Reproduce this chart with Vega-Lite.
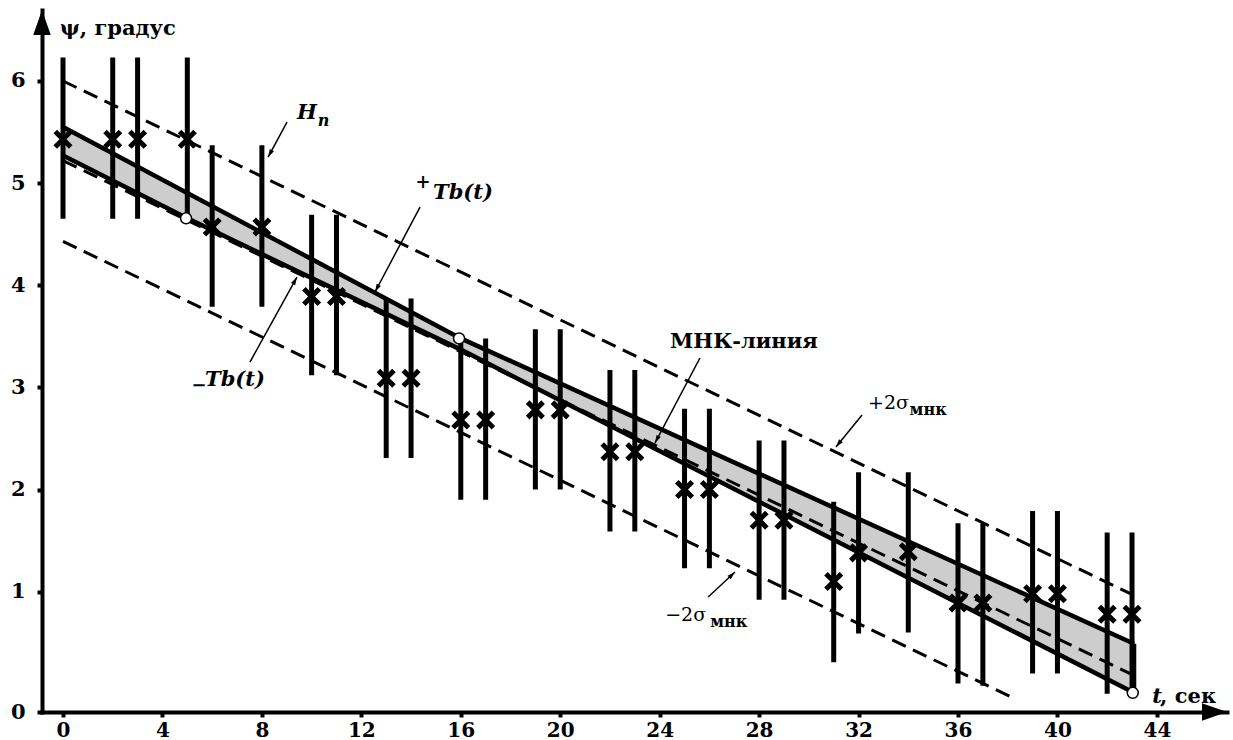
{
  "$schema": "https://vega.github.io/schema/vega-lite/v6.json",
  "width": 1185,
  "height": 702,
  "autosize": "none",
  "padding": {"left": 42, "top": 10, "right": 6, "bottom": 28},
  "background": "white",
  "config": {"view": {"stroke": null}, "font": "DejaVu Serif"},
  "datasets": {
    "band": [
      {"t": 0, "psi": 5.27, "psi2": 5.55},
      {"t": 5, "psi": 4.655, "psi2": 4.9},
      {"t": 16, "psi": 3.37, "psi2": 3.48},
      {"t": 43.08, "psi": 0.01, "psi2": 0.49}
    ],
    "curves": [
      {"series": "upper", "t": 0, "psi": 5.55},
      {"series": "upper", "t": 16, "psi": 3.48},
      {"series": "upper", "t": 43.08, "psi": 0.49},
      {"series": "lower", "t": 0, "psi": 5.27},
      {"series": "lower", "t": 5, "psi": 4.655},
      {"series": "lower", "t": 16, "psi": 3.37},
      {"series": "lower", "t": 43.08, "psi": 0.01},
      {"series": "mnk", "t": 0, "psi": 5.22},
      {"series": "mnk", "t": 43.08, "psi": 0.18},
      {"series": "plus2", "t": 0, "psi": 6.0},
      {"series": "plus2", "t": 43.04, "psi": 0.968},
      {"series": "minus2", "t": 0, "psi": 4.43},
      {"series": "minus2", "t": 38.3, "psi": -0.05}
    ],
    "bars": [
      {"t": 0, "psi": 4.65, "psi2": 6.23},
      {"t": 2, "psi": 4.65, "psi2": 6.23},
      {"t": 3, "psi": 4.65, "psi2": 6.23},
      {"t": 5, "psi": 4.65, "psi2": 6.23},
      {"t": 6, "psi": 3.79, "psi2": 5.37},
      {"t": 8, "psi": 3.79, "psi2": 5.37},
      {"t": 10, "psi": 3.12, "psi2": 4.69},
      {"t": 11, "psi": 3.12, "psi2": 4.69},
      {"t": 13, "psi": 2.31, "psi2": 3.87},
      {"t": 14, "psi": 2.31, "psi2": 3.87},
      {"t": 16, "psi": 1.9, "psi2": 3.48},
      {"t": 17, "psi": 1.9, "psi2": 3.48},
      {"t": 19, "psi": 2.0, "psi2": 3.57},
      {"t": 20, "psi": 2.0, "psi2": 3.57},
      {"t": 22, "psi": 1.59, "psi2": 3.17},
      {"t": 23, "psi": 1.59, "psi2": 3.17},
      {"t": 25, "psi": 1.23, "psi2": 2.79},
      {"t": 26, "psi": 1.23, "psi2": 2.79},
      {"t": 28, "psi": 0.92, "psi2": 2.48},
      {"t": 29, "psi": 0.92, "psi2": 2.48},
      {"t": 31, "psi": 0.31, "psi2": 1.88},
      {"t": 32, "psi": 0.59, "psi2": 2.17},
      {"t": 34, "psi": 0.6, "psi2": 2.17},
      {"t": 36, "psi": 0.1, "psi2": 1.67},
      {"t": 37, "psi": 0.08, "psi2": 1.67},
      {"t": 39, "psi": 0.2, "psi2": 1.79},
      {"t": 40, "psi": 0.2, "psi2": 1.79},
      {"t": 42, "psi": 0.0, "psi2": 1.58},
      {"t": 43, "psi": 0.0, "psi2": 1.58}
    ],
    "obs": [
      {"t": 0, "psi": 5.43}, {"t": 2, "psi": 5.43}, {"t": 3, "psi": 5.43}, {"t": 5, "psi": 5.43},
      {"t": 6, "psi": 4.57}, {"t": 8, "psi": 4.57},
      {"t": 10, "psi": 3.89}, {"t": 11, "psi": 3.89},
      {"t": 13, "psi": 3.09}, {"t": 14, "psi": 3.09},
      {"t": 16, "psi": 2.68}, {"t": 17, "psi": 2.68},
      {"t": 19, "psi": 2.78}, {"t": 20, "psi": 2.78},
      {"t": 22, "psi": 2.37}, {"t": 23, "psi": 2.37},
      {"t": 25, "psi": 2.0}, {"t": 26, "psi": 2.0},
      {"t": 28, "psi": 1.7}, {"t": 29, "psi": 1.7},
      {"t": 31, "psi": 1.1}, {"t": 32, "psi": 1.38}, {"t": 34, "psi": 1.39},
      {"t": 36, "psi": 0.89}, {"t": 37, "psi": 0.89},
      {"t": 39, "psi": 0.98}, {"t": 40, "psi": 0.98},
      {"t": 42, "psi": 0.78}, {"t": 43, "psi": 0.78}
    ],
    "circles": [
      {"t": 4.95, "psi": 4.655},
      {"t": 15.93, "psi": 3.48},
      {"t": 43.03, "psi": 0.01}
    ],
    "arrows": [
      {"t": 8.25, "psi": 5.255, "t2": 9.01, "psi2": 5.598, "ang": 208.5},
      {"t": 12.55, "psi": 3.934, "t2": 14.36, "psi2": 4.766, "ang": 207.9},
      {"t": 9.41, "psi": 4.08, "t2": 7.52, "psi2": 3.248, "ang": 28.9},
      {"t": 23.81, "psi": 2.455, "t2": 25.62, "psi2": 3.288, "ang": 207.9},
      {"t": 31.09, "psi": 2.416, "t2": 32.14, "psi2": 2.729, "ang": 219.1},
      {"t": 27.03, "psi": 1.192, "t2": 25.95, "psi2": 0.948, "ang": 47.2}
    ],
    "tips": [
      {"t": -0.845, "psi": 6.695, "ang": 0},
      {"t": 46.82, "psi": -0.178, "ang": 90}
    ]
  },
  "encoding": {
    "x": {
      "field": "t", "type": "quantitative",
      "scale": {"domain": [-0.845, 46.82], "nice": false, "zero": false},
      "axis": {
        "title": null, "values": [0, 4, 8, 12, 16, 20, 24, 28, 32, 36, 40, 44],
        "grid": false, "domain": true, "domainColor": "black", "domainWidth": 4, "domainCap": "square",
        "ticks": true, "tickColor": "black", "tickSize": 5, "tickWidth": 4,
        "labelFont": "DejaVu Serif", "labelFontSize": 20, "labelFontWeight": "bold",
        "labelColor": "black", "labelPadding": 3, "labelFlush": false, "labelOverlap": false,
        "labelExpr": "format(datum.value, 'd')"
      }
    },
    "y": {
      "field": "psi", "type": "quantitative",
      "scale": {"domain": [-0.178, 6.695], "nice": false, "zero": false},
      "axis": {
        "title": null, "values": [-0.178, 1, 2, 3, 4, 5, 6],
        "grid": false, "domain": true, "domainColor": "black", "domainWidth": 4, "domainCap": "square",
        "ticks": true, "tickColor": "black", "tickSize": 5, "tickWidth": 4,
        "labelFont": "DejaVu Serif", "labelFontSize": 21, "labelFontWeight": "bold",
        "labelColor": "black", "labelPadding": 12, "labelOverlap": false, "labelFlush": false,
        "labelExpr": "datum.value < 0 ? '0' : format(datum.value, 'd')"
      }
    }
  },
  "layer": [
    {
      "data": {"name": "band"},
      "mark": {"type": "area", "color": "#cdcdcd", "opacity": 1},
      "encoding": {"y2": {"field": "psi2"}}
    },
    {
      "data": {"name": "curves"},
      "transform": [{"filter": {"field": "series", "oneOf": ["mnk", "plus2", "minus2"]}}],
      "mark": {"type": "line", "color": "black", "strokeWidth": 3, "strokeDash": [15, 8]},
      "encoding": {"detail": {"field": "series"}}
    },
    {
      "data": {"name": "curves"},
      "transform": [{"filter": {"field": "series", "oneOf": ["upper", "lower"]}}],
      "mark": {"type": "line", "color": "black", "strokeWidth": 4.5},
      "encoding": {"detail": {"field": "series"}}
    },
    {
      "data": {"name": "band"},
      "transform": [{"filter": "datum.t > 43"}],
      "mark": {"type": "rule", "color": "black", "strokeWidth": 4.5},
      "encoding": {"y2": {"field": "psi2"}}
    },
    {
      "data": {"name": "bars"},
      "mark": {"type": "rule", "color": "black", "strokeWidth": 5},
      "encoding": {"y2": {"field": "psi2"}}
    },
    {
      "data": {"name": "obs"},
      "mark": {"type": "point", "shape": "M-1,-1L1,1M1,-1L-1,1", "size": 240, "filled": false, "stroke": "black", "strokeWidth": 5, "opacity": 1}
    },
    {
      "data": {"name": "circles"},
      "mark": {"type": "point", "shape": "circle", "size": 121, "filled": true, "fill": "white", "stroke": "black", "strokeWidth": 1.5, "opacity": 1}
    },
    {
      "data": {"name": "arrows"},
      "mark": {"type": "rule", "color": "black", "strokeWidth": 1.5},
      "encoding": {"x2": {"field": "t2"}, "y2": {"field": "psi2"}}
    },
    {
      "data": {"name": "arrows"},
      "mark": {"type": "point", "shape": "M0,0L0.6,2L-0.6,2Z", "size": 64, "filled": true, "fill": "black", "strokeWidth": 0, "opacity": 1},
      "encoding": {"angle": {"field": "ang", "type": "quantitative", "scale": null}}
    },
    {
      "data": {"name": "tips"},
      "mark": {"type": "point", "shape": "M0,0L0.7,2L-0.7,2Z", "size": 625, "filled": true, "fill": "black", "strokeWidth": 0, "opacity": 1},
      "encoding": {"angle": {"field": "ang", "type": "quantitative", "scale": null}}
    },
    {
      "data": {"values": [
        {"t": -0.121, "psi": 6.509, "label": "ψ, градус"},
        {"t": 44.13, "psi": -0.031, "label": ", сек"},
        {"t": 24.417, "psi": 3.444, "label": "МНК-линия"}
      ]},
      "mark": {"type": "text", "align": "left", "baseline": "middle", "font": "DejaVu Serif", "fontSize": 21, "fontWeight": "bold", "color": "black"},
      "encoding": {"text": {"field": "label"}}
    },
    {
      "data": {"values": [
        {"t": 9.413, "psi": 5.686, "label": "H"},
        {"t": 14.883, "psi": 4.902, "label": "Tb(t)"},
        {"t": 5.712, "psi": 3.072, "label": "Tb(t)"},
        {"t": 43.81, "psi": -0.031, "label": "t"}
      ]},
      "mark": {"type": "text", "align": "left", "baseline": "middle", "font": "DejaVu Serif", "fontSize": 21, "fontWeight": "bold", "fontStyle": "italic", "color": "black"},
      "encoding": {"text": {"field": "label"}}
    },
    {
      "data": {"values": [
        {"t": 10.25, "psi": 5.608, "label": "n"}
      ]},
      "mark": {"type": "text", "align": "left", "baseline": "middle", "font": "DejaVu Serif", "fontSize": 16, "fontWeight": "bold", "fontStyle": "italic", "color": "black"},
      "encoding": {"text": {"field": "label"}}
    },
    {
      "data": {"values": [
        {"t": 14.481, "psi": 5.0, "label": "+"},
        {"t": 5.47, "psi": 3.013, "label": "−"}
      ]},
      "mark": {"type": "text", "align": "center", "baseline": "middle", "font": "DejaVu Serif", "fontSize": 18, "fontWeight": "bold", "color": "black"},
      "encoding": {"text": {"field": "label"}}
    },
    {
      "data": {"values": [
        {"t": 32.38, "psi": 2.847, "label": "+2σ"},
        {"t": 24.22, "psi": 0.771, "label": "−2σ"}
      ]},
      "mark": {"type": "text", "align": "left", "baseline": "middle", "font": "DejaVu Serif", "fontSize": 19, "color": "black"},
      "encoding": {"text": {"field": "label"}}
    },
    {
      "data": {"values": [
        {"t": 34.05, "psi": 2.778, "label": "мнк"},
        {"t": 26.03, "psi": 0.703, "label": "мнк"}
      ]},
      "mark": {"type": "text", "align": "left", "baseline": "middle", "font": "DejaVu Serif", "fontSize": 16, "fontWeight": "bold", "color": "black"},
      "encoding": {"text": {"field": "label"}}
    }
  ]
}
